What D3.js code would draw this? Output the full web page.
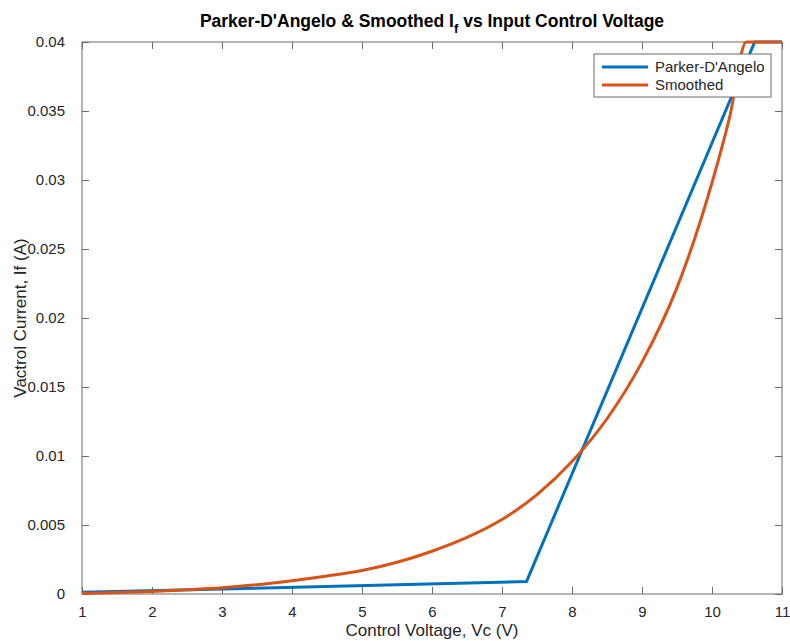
<!DOCTYPE html>
<html>
<head>
<meta charset="utf-8">
<script src="https://cdn.jsdelivr.net/npm/d3@7"></script>
<style>
  html, body { margin: 0; padding: 0; background: #fff; }
  svg { display: block; font-family: "Liberation Sans", Arial, Helvetica, sans-serif; }
</style>
</head>
<body>
<svg id="chart" width="790" height="641"></svg>
<script>
// Control voltage samples (V) and the two current curves (A)
const pdVoltage = [1, 7.35, 10.61, 11];
const pdCurrent = [0.00012, 0.0009, 0.04, 0.04];

const smVoltage = [1, 1.5, 2, 2.5, 3, 3.5, 4, 4.5, 5, 5.5, 6, 6.5, 7, 7.5, 8, 8.5, 9, 9.5, 10, 10.25, 10.49, 11];
const smCurrent = [0.00005, 0.0001, 0.00018, 0.0003, 0.00045, 0.00067, 0.00096, 0.0013, 0.0017, 0.0023,
                   0.0031, 0.0041, 0.0054, 0.0072, 0.0096, 0.0127, 0.0168, 0.0222, 0.0298, 0.0345, 0.04, 0.04];

const xTicks = [1, 2, 3, 4, 5, 6, 7, 8, 9, 10, 11];
const yTicks = [0, 0.005, 0.01, 0.015, 0.02, 0.025, 0.03, 0.035, 0.04];
const yTickLabels = ["0", "0.005", "0.01", "0.015", "0.02", "0.025", "0.03", "0.035", "0.04"];

const seriesNames = ["Parker-D'Angelo", "Smoothed"];
const seriesColors = ["#0072BD", "#D95319"];

const svg = d3.select("#chart");
const margin = { left: 82, top: 42, right: 8, bottom: 47 };
const W = 790, H = 641;
const iw = W - margin.left - margin.right;
const ih = H - margin.top - margin.bottom;

const x = d3.scaleLinear().domain([1, 11]).range([0, iw]);
const y = d3.scaleLinear().domain([0, 0.04]).range([ih, 0]);

const g = svg.append("g").attr("transform", `translate(${margin.left},${margin.top})`);

const axisColor = "#6b6b6b";
const textColor = "#262626";
const tickLen = 7;

// Axes with ticks on all four sides (boxed plot)
function styleAxis(sel) {
  sel.select(".domain").remove();
  sel.selectAll(".tick line").attr("stroke", axisColor).attr("stroke-width", 1);
  sel.selectAll(".tick text").attr("fill", textColor).style("font-size", "15px");
}

const xBottom = g.append("g").attr("transform", `translate(0,${ih})`)
  .call(d3.axisBottom(x).tickValues(xTicks).tickFormat(d3.format("d")).tickSizeInner(-tickLen).tickSizeOuter(0).tickPadding(12));
styleAxis(xBottom);
xBottom.selectAll(".tick text").attr("dy", "0.71em");

const xTop = g.append("g")
  .call(d3.axisTop(x).tickValues(xTicks).tickFormat("").tickSizeInner(-tickLen).tickSizeOuter(0));
styleAxis(xTop);

const yLeft = g.append("g")
  .call(d3.axisLeft(y).tickValues(yTicks).tickFormat((d, i) => yTickLabels[i]).tickSizeInner(-tickLen).tickSizeOuter(0).tickPadding(17));
styleAxis(yLeft);

const yRight = g.append("g").attr("transform", `translate(${iw},0)`)
  .call(d3.axisRight(y).tickValues(yTicks).tickFormat("").tickSizeInner(-tickLen).tickSizeOuter(0));
styleAxis(yRight);

// Box
g.append("rect").attr("x", 0).attr("y", 0).attr("width", iw).attr("height", ih)
  .attr("fill", "none").attr("stroke", axisColor).attr("stroke-width", 1);

// Curves
const line = d3.line().x(d => x(d[0])).y(d => y(d[1]));
const pdData = pdVoltage.map((v, i) => [v, pdCurrent[i]]);
const smData = smVoltage.map((v, i) => [v, smCurrent[i]]);

g.append("path").datum(pdData)
  .attr("d", line.curve(d3.curveLinear))
  .attr("fill", "none").attr("stroke", seriesColors[0]).attr("stroke-width", 3)
  .attr("stroke-linejoin", "round");

g.append("path").datum(smData)
  .attr("d", line.curve(d3.curveMonotoneX))
  .attr("fill", "none").attr("stroke", seriesColors[1]).attr("stroke-width", 3)
  .attr("stroke-linejoin", "round");

// Legend
const lg = svg.append("g").attr("transform", "translate(594,54)");
lg.append("rect").attr("width", 177).attr("height", 43)
  .attr("fill", "#fff").attr("stroke", axisColor).attr("stroke-width", 1);
seriesNames.forEach((name, i) => {
  const cy = 13 + i * 18;
  lg.append("line").attr("x1", 8).attr("x2", 54).attr("y1", cy).attr("y2", cy)
    .attr("stroke", seriesColors[i]).attr("stroke-width", 3);
  lg.append("text").attr("x", 61).attr("y", cy).attr("dy", "0.35em")
    .attr("fill", textColor).style("font-size", "15px").text(name);
});

// Title with subscript
const title = svg.append("text").attr("x", margin.left + iw / 2).attr("y", 27)
  .attr("text-anchor", "middle").attr("fill", "#000")
  .style("font-size", "17.5px").style("font-weight", "bold");
title.append("tspan").text("Parker-D'Angelo & Smoothed I");
title.append("tspan").attr("dy", 6).style("font-size", "13px").text("f");
title.append("tspan").attr("dy", -6).text(" vs Input Control Voltage");

// Axis labels
svg.append("text").attr("x", margin.left + iw / 2).attr("y", 636)
  .attr("text-anchor", "middle").attr("fill", textColor).style("font-size", "17px")
  .text("Control Voltage, Vc (V)");

svg.append("text")
  .attr("transform", `translate(26,${margin.top + ih / 2}) rotate(-90)`)
  .attr("text-anchor", "middle").attr("fill", textColor).style("font-size", "17px")
  .text("Vactrol Current, If (A)");
</script>
</body>
</html>
